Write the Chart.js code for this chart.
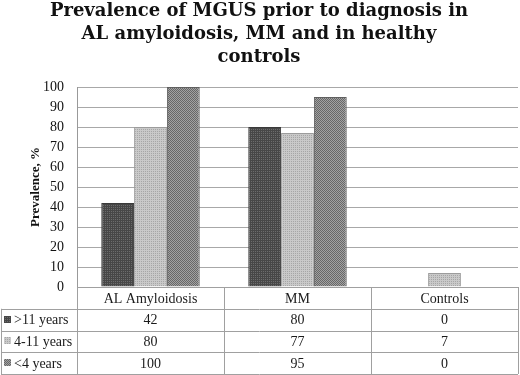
<!DOCTYPE html>
<html>
<head>
<meta charset="utf-8">
<script src="https://cdn.jsdelivr.net/npm/chart.js@4.4.1/dist/chart.umd.min.js"></script>
<style>
  html, body { margin: 0; padding: 0; background: #fff; }
  #wrap { width: 520px; height: 375px; }
</style>
</head>
<body>
<div id="wrap"><canvas id="chart" width="520" height="375"></canvas></div>
<script>
// --- Data ---
const titleLines = ['Prevalence of MGUS prior to diagnosis in', 'AL amyloidosis, MM and in healthy', 'controls'];
const categories = ['AL Amyloidosis', 'MM', 'Controls'];
const seriesNames = ['>11 years', '4-11 years', '<4 years'];
const over11Years = [42, 80, 0];
const from4To11Years = [80, 77, 7];
const under4Years = [100, 95, 0];
const yMin = 0, yMax = 100, yStep = 10;

const SERIF = "'Liberation Serif', 'DejaVu Serif', serif";
const TITLE_SERIF = "'DejaVu Serif', 'Liberation Serif', serif";
const canvas = document.getElementById('chart');
const ctx = canvas.getContext('2d');

// small tiled fills, like the printed hatching in the original
function makePattern(colors) {
  const tile = document.createElement('canvas');
  tile.width = 2; tile.height = 2;
  const g = tile.getContext('2d');
  colors.forEach((c, i) => { g.fillStyle = c; g.fillRect(i % 2, Math.floor(i / 2), 1, 1); });
  return ctx.createPattern(tile, 'repeat');
}
const fills = [
  makePattern(['#474747', '#474747', '#474747', '#6c6c6c']),
  makePattern(['#c9c9c9', '#c9c9c9', '#c9c9c9', '#a6a6a6']),
  makePattern(['#676767', '#a2a2a2', '#a2a2a2', '#676767'])
];
const borders = ['#3a3a3a', '#9c9c9c', '#606060'];

// --- Data table under the plot ---
const dataTable = {
  id: 'dataTable',
  afterDraw(chart) {
    const { ctx, chartArea } = chart;
    const x = chart.scales.x;
    const top = chartArea.bottom;
    const bottom = chart.height - 1;
    const rowH = (bottom - top) / (seriesNames.length + 1);
    const px = (v) => Math.round(v) + 0.5;
    const edges = [chartArea.left];
    for (let i = 1; i < categories.length; i++) edges.push((x.getPixelForValue(i - 1) + x.getPixelForValue(i)) / 2);
    edges.push(chartArea.right);

    ctx.save();
    ctx.strokeStyle = '#a0a0a0';
    ctx.lineWidth = 1;
    ctx.beginPath();
    for (let r = 0; r <= seriesNames.length + 1; r++) {
      const y = px(top + r * rowH);
      ctx.moveTo(r === 0 ? chartArea.left : 1, y);
      ctx.lineTo(chartArea.right, y);
    }
    edges.forEach((e) => { ctx.moveTo(px(e), top); ctx.lineTo(px(e), bottom); });
    ctx.moveTo(1.5, top + rowH); ctx.lineTo(1.5, bottom);
    ctx.stroke();

    ctx.fillStyle = '#1a1a1a';
    ctx.font = '14px ' + SERIF;
    ctx.textBaseline = 'middle';
    ctx.textAlign = 'center';
    categories.forEach((c, i) => ctx.fillText(c, (edges[i] + edges[i + 1]) / 2, top + rowH / 2 + 1));

    chart.data.datasets.forEach((ds, r) => {
      const yMid = top + (r + 1.5) * rowH + 1;
      ds.data.forEach((v, i) => {
        ctx.textAlign = 'center';
        ctx.fillText(String(v), (edges[i] + edges[i + 1]) / 2, yMid);
      });
      ctx.fillStyle = ds.backgroundColor;
      ctx.fillRect(4, Math.round(yMid - 5), 7, 7);
      ctx.fillStyle = '#1a1a1a';
      ctx.textAlign = 'left';
      ctx.fillText(ds.label, 14, yMid);
    });
    ctx.restore();
  }
};

const seriesValues = [over11Years, from4To11Years, under4Years];

new Chart(ctx, {
  type: 'bar',
  data: {
    labels: categories,
    datasets: seriesNames.map((name, i) => ({
      label: name,
      data: seriesValues[i],
      backgroundColor: fills[i],
      borderColor: borders[i],
      borderWidth: 1,
      categoryPercentage: 0.67,
      barPercentage: 1
    }))
  },
  options: {
    responsive: false,
    animation: false,
    layout: { padding: { left: 0, right: 2, top: 0, bottom: 88 } },
    plugins: {
      legend: { display: false },
      tooltip: { enabled: false },
      title: {
        display: true,
        text: titleLines,
        color: '#111',
        font: { family: TITLE_SERIF, size: 18, weight: 'bold', lineHeight: '23px' },
        padding: { top: 0, bottom: 18 }
      }
    },
    scales: {
      x: { display: false },
      y: {
        min: yMin,
        max: yMax,
        ticks: { stepSize: yStep, padding: 13, color: '#111', font: { family: SERIF, size: 14 } },
        grid: { color: '#a8a8a8', drawTicks: false },
        border: { display: true, color: '#999' },
        title: {
          display: true,
          text: 'Prevalence, %',
          color: '#111',
          font: { family: SERIF, size: 13, weight: 'bold' },
          padding: { top: 28, bottom: 0 }
        },
        afterFit: (scale) => { scale.width = 77; }
      }
    }
  },
  plugins: [dataTable]
});
</script>
</body>
</html>
